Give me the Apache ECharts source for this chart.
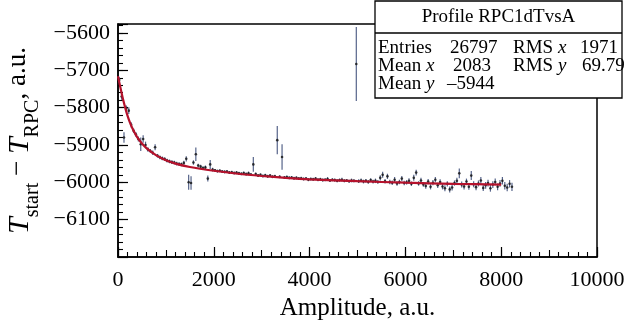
<!DOCTYPE html>
<html>
<head>
<meta charset="utf-8">
<script src="https://cdn.jsdelivr.net/npm/echarts@6/dist/echarts.min.js"></script>
<style>
html,body{margin:0;padding:0;background:#fff;}
#c{width:626px;height:323px;}
</style>
</head>
<body>
<div id="c"></div>
<script>
// Profile bin centres (amplitude, a.u.)
const amplitude = [
  25,75,125,175,225,275,325,375,425,475,
  525,575,625,675,725,775,825,875,925,975,
  1025,1075,1125,1175,1225,1275,1325,1375,1425,1475,
  1525,1575,1625,1675,1725,1775,1825,1875,1925,1975,
  2025,2075,2125,2175,2225,2275,2325,2375,2425,2475,
  2525,2575,2625,2675,2725,2775,2825,2875,2925,2975,
  3025,3075,3125,3175,3225,3275,3325,3375,3425,3475,
  3525,3575,3625,3675,3725,3775,3825,3875,3925,3975,
  4025,4075,4125,4175,4225,4275,4325,4375,4425,4475,
  4525,4575,4625,4675,4725,4775,4825,4875,4925,4975,
  5025,5075,5125,5175,5225,5275,5325,5375,5425,5475,
  5525,5575,5625,5675,5725,5775,5825,5875,5925,5975,
  6025,6075,6125,6175,6225,6275,6325,6375,6425,6475,
  6525,6575,6625,6675,6725,6775,6825,6875,6925,6975,
  7025,7075,7125,7175,7225,7275,7325,7375,7425,7475,
  7525,7575,7625,7675,7725,7775,7825,7875,7925,7975,
  8025,8075,8125,8175,8225
];
// Profile means T_start - T_RPC
const deltaT = [
  -5726,-5770,-5880,-5802,-5808,-5846,-5862,-5872,-5884,-5898,
  -5884,-5900,-5912,-5916,-5921,-5906,-5929,-5933,-5936,-5938,
  -5942,-5944,-5946,-5947,-5950,-5951,-5952,-5948,-5937,-6000,
  -6002,-5947,-5925,-5955,-5958,-5962,-5960,-5990,-5952,-5966,
  -5968,-5970,-5969,-5971,-5972,-5971,-5974,-5973,-5975,-5974,
  -5976,-5977,-5975,-5978,-5976,-5979,-5952,-5978,-5982,-5980,
  -5983,-5981,-5984,-5982,-5985,-5984,-5887,-5985,-5932,-5987,
  -5986,-5988,-5987,-5989,-5988,-5990,-5989,-5991,-5990,-5993,
  -5991,-5992,-5990,-5993,-5992,-5994,-5993,-5991,-5995,-5993,
  -5994,-5996,-5994,-5993,-5996,-5995,-5997,-5995,-5996,-5683,
  -5997,-5995,-5998,-5996,-5999,-5994,-5998,-5996,-5999,-5988,
  -5980,-5997,-5984,-5999,-6001,-5993,-6003,-5999,-5990,-6002,
  -6000,-5996,-6004,-5988,-5974,-6003,-5995,-6006,-6010,-5998,
  -6012,-6001,-5993,-6008,-5999,-6011,-6016,-6004,-6019,-6014,
  -6002,-5996,-5976,-6006,-6011,-5998,-6012,-5982,-6005,-6013,
  -6003,-5995,-6015,-6008,-6002,-6016,-6006,-5999,-6012,-6003,
  -5996,-6009,-6014,-6004,-6012
];
// Errors of the profile means
const deltaTErr = [
  8,9,14,8,9,7,6,6,7,18,
  10,9,6,5,6,8,5,5,5,5,
  5,5,5,5,5,5,5,6,7,20,
  18,6,18,5,5,5,5,8,12,5,
  4,4,4,4,4,4,4,4,4,4,
  4,4,4,4,5,4,20,4,4,4,
  4,4,4,4,4,4,38,4,34,4,
  4,4,4,4,4,4,4,4,4,4,
  4,4,4,4,4,4,4,5,4,4,
  4,4,4,5,4,4,4,5,4,99,
  5,5,5,5,5,5,5,6,5,7,
  8,6,7,6,6,7,6,6,7,6,
  6,7,6,8,8,6,7,6,7,7,
  7,7,7,7,7,8,8,7,8,8,
  7,8,13,8,8,8,8,12,8,8,
  8,9,8,9,9,9,9,9,9,9,
  10,10,10,10,11
];
// Fit curve
const fitX = [0,25,50,75,100,150,200,250,300,400,500,600,800,1000,1200,1500,2000,2500,3000,3500,4000,5000,6000,7000,8000];
const fitY = [-5716,-5731,-5746,-5761,-5775,-5800,-5822,-5840,-5855,-5879,-5896,-5909,-5928,-5941,-5950,-5959,-5969,-5977,-5983,-5988,-5992,-5997,-6001,-6004,-6006];
// Axis ticks
const xRange = [0, 10000], xMajor = 2000, xMid = 1000, xMinor = 200;
const yRange = [-6200, -5576], yMajor = 100, yMinor = 20;
// Stats box
const statsTitle = 'Profile RPC1dTvsA';
const statsEntries = '26797', statsMeanX = '2083', statsMeanY = '–5944', statsRmsX = '1971', statsRmsY = '69.79';

const FONT = '"Liberation Serif", "Times New Roman", serif';
const chart = echarts.init(document.getElementById('c'));

const profile = amplitude.map((a,i)=>[a, deltaT[i], deltaTErr[i]]);
const fit = fitX.map((a,i)=>[a, fitY[i]]);

const G = {left:118, right:29, top:24, bottom:66};
const boxX = 375, boxY = 1, boxW = 247, boxH = 97;
const SF = '19px ' + FONT;
const it = {i:{fontFamily:FONT, fontSize:19, fontStyle:'italic'}};

chart.setOption({
  animation:false,
  backgroundColor:'#fff',
  grid:{left:G.left, right:G.right, top:G.top, bottom:G.bottom, show:true, borderColor:'#000', borderWidth:1.5,
    backgroundColor:'transparent', containLabel:false, outerBoundsMode:'none'},
  xAxis:[{
    type:'value', min:xRange[0], max:xRange[1], interval:xMid, position:'bottom',
    axisLine:{show:true, lineStyle:{color:'#000', width:1.5}},
    axisTick:{show:true, inside:true, length:7, lineStyle:{color:'#000', width:1.1}},
    minorTick:{show:true, splitNumber:xMid/xMinor, length:5, lineStyle:{color:'#000', width:1.1}},
    splitLine:{show:false},
    axisLabel:{color:'#000', fontFamily:FONT, fontSize:22, margin:12,
      formatter:v=> (v % xMajor === 0 ? String(v) : '')},
    name:'Amplitude, a.u.', nameLocation:'middle', nameGap:37,
    nameTextStyle:{color:'#000', fontFamily:FONT, fontSize:25}
  },{
    type:'value', min:xRange[0], max:xRange[1], interval:xMajor, position:'bottom', offset:0,
    axisLine:{show:false}, axisLabel:{show:false}, splitLine:{show:false},
    axisTick:{show:true, inside:true, length:10, lineStyle:{color:'#000', width:1.2}}
  }],
  yAxis:[{
    type:'value', min:yRange[0], max:yRange[1], interval:yMinor, position:'left',
    axisLine:{show:true, lineStyle:{color:'#000', width:1.5}},
    axisTick:{show:true, inside:true, length:5, lineStyle:{color:'#000', width:1.1}},
    splitLine:{show:false},
    axisLabel:{color:'#000', fontFamily:FONT, fontSize:22, margin:8, showMinLabel:false, showMaxLabel:false,
      formatter:v=> (v % yMajor === 0 ? String(v).replace('-', '\u2212') : '')},
    name:'{t|T}{s|start}{m| \u2212 }{t|T}{s|RPC}{m|, a.u.}{z| }',
    nameLocation:'middle', nameGap:74, nameRotate:90,
    nameTextStyle:{color:'#000', fontFamily:FONT,
      rich:{
        t:{fontFamily:FONT, fontStyle:'italic', fontSize:30, color:'#000', verticalAlign:'top', lineHeight:32},
        m:{fontFamily:FONT, fontSize:27, color:'#000', verticalAlign:'top', lineHeight:32},
        s:{fontFamily:FONT, fontSize:20, color:'#000', verticalAlign:'bottom', lineHeight:22},
        z:{fontSize:1, lineHeight:38, width:0}
      }}
  },{
    type:'value', min:yRange[0], max:yRange[1], interval:yMajor, position:'left', offset:0,
    axisLine:{show:false}, axisLabel:{show:false}, splitLine:{show:false},
    axisTick:{show:true, inside:true, length:10, lineStyle:{color:'#000', width:1.2}}
  }],
  series:[{
    type:'custom', name:'errors', xAxisIndex:0, yAxisIndex:0, clip:true, z:2,
    data:profile,
    renderItem:function(params, api){
      const x = api.value(0), y = api.value(1), e = api.value(2);
      const p1 = api.coord([x, y+e]), p2 = api.coord([x, y-e]);
      return {type:'line', shape:{x1:p1[0], y1:p1[1], x2:p2[0], y2:p2[1]},
        style:{stroke:'#56648a', lineWidth:1.2}};
    }
  },{
    type:'scatter', name:'profile', xAxisIndex:0, yAxisIndex:0, z:3,
    data:profile.map(p=>[p[0], p[1]]),
    symbol:'circle', symbolSize:2.6, itemStyle:{color:'#111'}
  },{
    type:'line', name:'fit', xAxisIndex:0, yAxisIndex:0, z:4,
    data:fit, smooth:0.3, showSymbol:false, symbol:'none',
    lineStyle:{color:'#b5122c', width:2.2}
  }],
  graphic:[{
    type:'group', z:100,
    children:[
      {type:'rect', shape:{x:boxX, y:boxY, width:boxW, height:boxH}, style:{fill:'#fff', stroke:'#000', lineWidth:1.3}},
      {type:'line', shape:{x1:boxX, y1:33, x2:boxX+boxW, y2:33}, style:{stroke:'#000', lineWidth:1.3}},
      {type:'text', x:boxX+boxW/2, y:17, style:{text:statsTitle, font:SF, fill:'#000', textAlign:'center', textVerticalAlign:'middle'}},
      {type:'text', x:378, y:48, style:{text:'Entries', font:SF, fill:'#000', textVerticalAlign:'middle'}},
      {type:'text', x:378, y:66, style:{text:'Mean {i|x}', font:SF, fill:'#000', textVerticalAlign:'middle', rich:it}},
      {type:'text', x:378, y:84, style:{text:'Mean {i|y}', font:SF, fill:'#000', textVerticalAlign:'middle', rich:it}},
      {type:'text', x:450, y:48, style:{text:statsEntries, font:SF, fill:'#000', textVerticalAlign:'middle'}},
      {type:'text', x:453, y:66, style:{text:statsMeanX, font:SF, fill:'#000', textVerticalAlign:'middle'}},
      {type:'text', x:447, y:84, style:{text:statsMeanY, font:SF, fill:'#000', textVerticalAlign:'middle'}},
      {type:'text', x:513, y:48, style:{text:'RMS {i|x}', font:SF, fill:'#000', textVerticalAlign:'middle', rich:it}},
      {type:'text', x:513, y:66, style:{text:'RMS {i|y}', font:SF, fill:'#000', textVerticalAlign:'middle', rich:it}},
      {type:'text', x:580, y:48, style:{text:statsRmsX, font:SF, fill:'#000', textVerticalAlign:'middle'}},
      {type:'text', x:582, y:66, style:{text:statsRmsY, font:SF, fill:'#000', textVerticalAlign:'middle'}}
    ]
  }]
});
</script>
</body>
</html>
